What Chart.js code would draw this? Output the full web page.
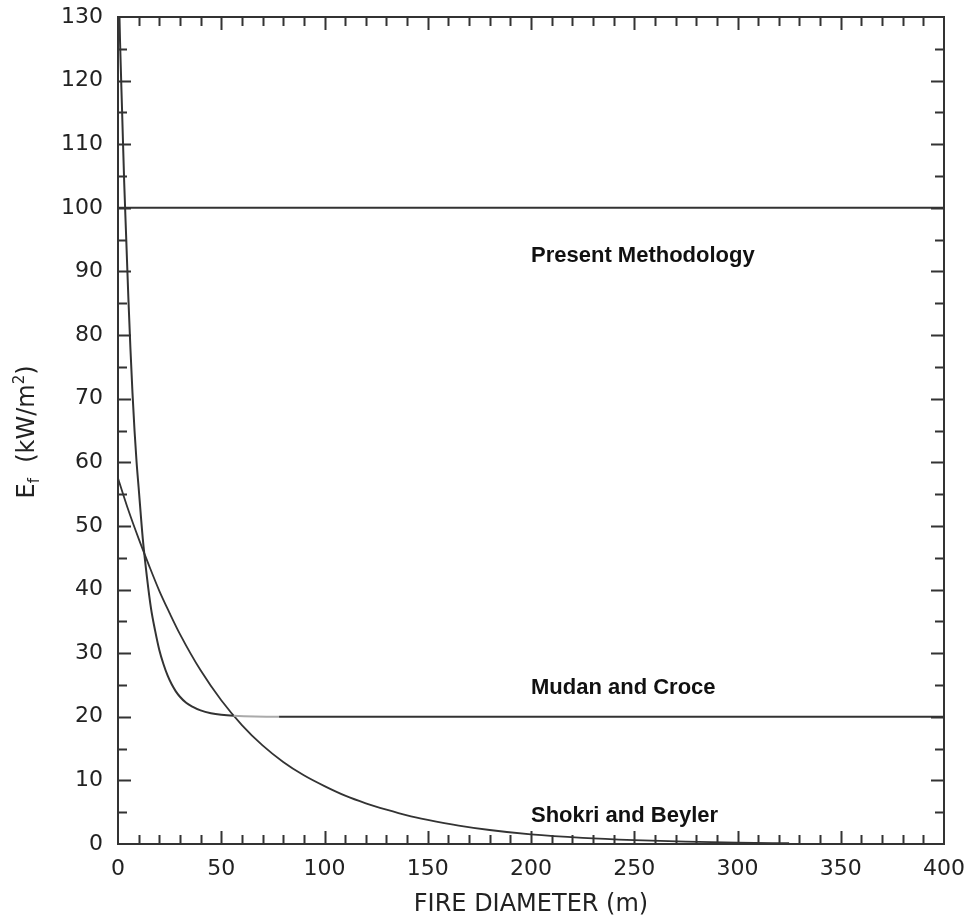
<!DOCTYPE html>
<html>
<head>
<meta charset="utf-8">
<script src="https://cdn.jsdelivr.net/npm/chart.js@4.4.1/dist/chart.umd.min.js"></script>
<style>
  body { margin: 0; background: #fff; }
  canvas { display: block; }
</style>
</head>
<body>
<canvas id="fireChart" width="972" height="920"></canvas>
<script>
const X_TITLE = "FIRE DIAMETER (m)";

const presentX = [0, 400];
const presentY = [100, 100];

const mudanX = [0, 1, 2, 3, 4, 5, 6, 7, 8, 9, 10, 12, 14, 16, 18, 20, 22, 24, 26, 28, 30, 33, 36, 40, 45, 50, 56, 78, 400];
const mudanY = [140, 126, 115, 104, 95, 86, 78, 71, 65, 60, 56, 48, 42, 37, 33.5, 30.5, 28.3, 26.5, 25.1, 24, 23.15, 22.2, 21.6, 21, 20.55, 20.3, 20.15, 20, 20];

const shokriX = [0, 5, 10, 15, 20, 25, 30, 40, 50, 60, 70, 80, 90, 100, 110, 120, 130, 140, 150, 165, 180, 200, 225, 250, 275, 300, 325];
const shokriY = [57.5, 52.5, 48, 43.8, 39.8, 36.3, 33, 27.3, 22.6, 18.7, 15.5, 12.9, 10.8, 9.1, 7.6, 6.4, 5.4, 4.5, 3.8, 2.9, 2.2, 1.5, 0.95, 0.6, 0.37, 0.22, 0.12];

// curve labels: text, x, y (data units, left / baseline)
const labelText = ["Present Methodology", "Mudan and Croce", "Shokri and Beyler"];
const labelX = [200, 200, 200];
const labelY = [91.5, 23.6, 3.5];

const toPoints = (xs, ys) => xs.map((x, i) => ({ x, y: ys[i] }));

const LINE = "#333";

// inward ticks on all four sides + frame + labels
const framePlugin = {
  id: "frame",
  afterDatasetsDraw(chart) {
    const { ctx, chartArea: a, scales } = chart;
    const xs = scales.x;
    const ys = scales.y;
    ctx.save();
    ctx.strokeStyle = LINE;
    ctx.lineWidth = 2;
    ctx.strokeRect(a.left, a.top, a.right - a.left, a.bottom - a.top);

    ctx.beginPath();
    for (let v = 10; v < 400; v += 10) {
      const len = v % 50 === 0 ? 13 : 9;
      const px = Math.round(xs.getPixelForValue(v)) + 0.5;
      ctx.moveTo(px, a.bottom);
      ctx.lineTo(px, a.bottom - len);
      ctx.moveTo(px, a.top);
      ctx.lineTo(px, a.top + len);
    }
    for (let v = 5; v < 130; v += 5) {
      const len = v % 10 === 0 ? 13 : 9;
      const py = Math.round(ys.getPixelForValue(v)) + 0.5;
      ctx.moveTo(a.left, py);
      ctx.lineTo(a.left + len, py);
      ctx.moveTo(a.right, py);
      ctx.lineTo(a.right - len, py);
    }
    ctx.stroke();

    ctx.fillStyle = "#111";
    ctx.font = "bold 22px 'Liberation Sans', Arial, sans-serif";
    ctx.textAlign = "left";
    ctx.textBaseline = "alphabetic";
    labelText.forEach((t, i) => {
      ctx.fillText(t, xs.getPixelForValue(labelX[i]), ys.getPixelForValue(labelY[i]));
    });
    ctx.restore();
  },
  afterDraw(chart) {
    // y title with subscript / superscript
    const { ctx } = chart;
    const big = "24px 'DejaVu Sans', sans-serif";
    const small = "15px 'DejaVu Sans', sans-serif";
    const parts = [
      { t: "E", f: big, dy: 0 },
      { t: "f", f: small, dy: 7 },
      { t: "  (kW/m", f: big, dy: 0 },
      { t: "2", f: small, dy: -8 },
      { t: ")", f: big, dy: 0 },
    ];
    ctx.save();
    ctx.fillStyle = "#222";
    ctx.textBaseline = "middle";
    ctx.textAlign = "left";
    let total = 0;
    parts.forEach((p) => {
      ctx.font = p.f;
      p.w = ctx.measureText(p.t).width;
      total += p.w;
    });
    ctx.translate(28, 432);
    ctx.rotate(-Math.PI / 2);
    let x = -total / 2;
    parts.forEach((p) => {
      ctx.font = p.f;
      ctx.fillText(p.t, x, p.dy);
      x += p.w;
    });
    ctx.restore();
  },
};

const ctx = document.getElementById("fireChart").getContext("2d");

new Chart(ctx, {
  type: "line",
  data: {
    datasets: [
      {
        label: "Present Methodology",
        data: toPoints(presentX, presentY),
        borderColor: LINE,
        borderWidth: 2,
        pointRadius: 0,
      },
      {
        label: "Mudan and Croce",
        data: toPoints(mudanX, mudanY),
        borderColor: LINE,
        borderWidth: 2,
        pointRadius: 0,
        cubicInterpolationMode: "monotone",
        segment: {
          borderColor: (c) =>
            c.p0.parsed.x >= 56 && c.p1.parsed.x <= 78 ? "#aaa" : LINE,
        },
      },
      {
        label: "Shokri and Beyler",
        data: toPoints(shokriX, shokriY),
        borderColor: LINE,
        borderWidth: 1.8,
        pointRadius: 0,
        cubicInterpolationMode: "monotone",
      },
    ],
  },
  options: {
    responsive: false,
    animation: false,
    layout: {
      padding: { top: 17, right: 28, left: 0, bottom: 0 },
    },
    plugins: {
      legend: { display: false },
      tooltip: { enabled: false },
    },
    scales: {
      x: {
        type: "linear",
        min: 0,
        max: 400,
        grid: { display: false, drawTicks: false },
        border: { display: false },
        ticks: {
          stepSize: 50,
          padding: 12,
          color: "#222",
          font: { family: "'DejaVu Sans', sans-serif", size: 22 },
          maxRotation: 0,
        },
        title: {
          display: true,
          text: X_TITLE,
          color: "#222",
          font: { family: "'DejaVu Sans', sans-serif", size: 24 },
          padding: { top: 0, bottom: 1 },
        },
        afterFit: (scale) => {
          scale.height = 76;
          scale.paddingLeft = 0;
          scale.paddingRight = 0;
        },
      },
      y: {
        min: 0,
        max: 130,
        grid: { display: false, drawTicks: false },
        border: { display: false },
        ticks: {
          stepSize: 10,
          padding: 15,
          color: "#222",
          font: { family: "'DejaVu Sans', sans-serif", size: 22 },
        },
        afterFit: (scale) => {
          scale.width = 118;
          scale.paddingTop = 0;
          scale.paddingBottom = 0;
        },
      },
    },
  },
  plugins: [framePlugin],
});
</script>
</body>
</html>
